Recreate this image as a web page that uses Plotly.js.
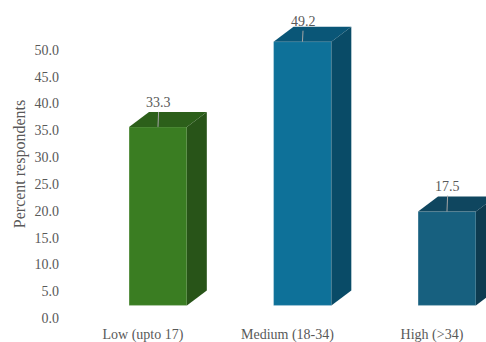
<!DOCTYPE html>
<html>
<head>
<meta charset="utf-8">
<script src="https://cdn.plot.ly/plotly-3.0.1.min.js"></script>
<style>
  html, body { margin: 0; padding: 0; background: #ffffff; }
  #chart { width: 486px; height: 342px; }
</style>
</head>
<body>
<div id="chart"></div>
<script>
// ---- data ----
const categories = ['Low (upto 17)', 'Medium (18-34)', 'High (>34)'];
const values = [33.3, 49.2, 17.5];
const valueLabels = ['33.3', '49.2', '17.5'];
const yTickVals = [0, 5, 10, 15, 20, 25, 30, 35, 40, 45, 50];
const yTickText = ['0.0', '5.0', '10.0', '15.0', '20.0', '25.0', '30.0', '35.0', '40.0', '45.0', '50.0'];

// ---- style ----
const frontColors = ['#3a7d22', '#0e7199', '#17607f'];
const topColors = ['#2c5f1a', '#0a5677', '#0f465f'];
const sideColors = ['#285418', '#094b67', '#0d3b50'];
const FONT = 'Liberation Serif, Times New Roman, serif';
const frontShift = 0.104;   // front face offset from category tick (category units)
const barWidth = 0.40;      // category units
const depthX = 0.138;       // 3D depth, category units
const depthY = 2.8;         // 3D depth, value units
const floorBase = 2.35;     // projected front-floor level
const labelLift = [-24, -20, -25]; // px from front top edge to label

const xIdx = categories.map((c, i) => i);
const xFront = xIdx.map(i => i + frontShift);

const traces = [];
traces.push({
  type: 'bar',
  x: xFront,
  y: values,
  base: values.map(() => floorBase),
  width: barWidth,
  marker: { color: frontColors, line: { color: 'rgba(255,255,255,0.25)', width: 0.8 } },
  hoverinfo: 'skip',
  showlegend: false
});

values.forEach((v, i) => {
  const xl = xFront[i] - barWidth / 2;
  const xr = xFront[i] + barWidth / 2;
  const yb = floorBase;
  const yt = floorBase + v;
  // top face
  traces.push({
    type: 'scatter', mode: 'lines', fill: 'toself',
    x: [xl, xr, xr + depthX, xl + depthX, xl],
    y: [yt, yt, yt + depthY, yt + depthY, yt],
    line: { width: 0 }, fillcolor: topColors[i],
    hoverinfo: 'skip', showlegend: false
  });
  // side face
  traces.push({
    type: 'scatter', mode: 'lines', fill: 'toself',
    x: [xr, xr + depthX, xr + depthX, xr, xr],
    y: [yb, yb + depthY, yt + depthY, yt, yb],
    line: { width: 0 }, fillcolor: sideColors[i],
    hoverinfo: 'skip', showlegend: false
  });
});

const annotations = values.map((v, i) => ({
  x: xFront[i], y: floorBase + v, xref: 'x', yref: 'y',
  text: valueLabels[i],
  showarrow: true, arrowhead: 0, arrowwidth: 1, arrowcolor: '#a6a6a6',
  ax: 1, ay: labelLift[i], standoff: 0,
  font: { family: FONT, size: 14, color: '#595959' }
}));

const layout = {
  width: 486, height: 342,
  margin: { l: 60, r: 0, t: 10, b: 24 },
  paper_bgcolor: '#ffffff', plot_bgcolor: '#ffffff',
  font: { family: FONT, size: 14, color: '#595959' },
  showlegend: false,
  bargap: 0,
  xaxis: {
    range: [-0.574, 2.374],
    tickvals: xIdx, ticktext: categories,
    showgrid: false, zeroline: false, showline: false, ticks: '',
    ticklabelstandoff: 6,
    tickfont: { family: FONT, size: 14, color: '#595959' },
    fixedrange: true
  },
  yaxis: {
    range: [0, 57.46],
    tickvals: yTickVals, ticktext: yTickText,
    showgrid: false, zeroline: false, showline: false, ticks: '',
    tickfont: { family: FONT, size: 14, color: '#595959' },
    title: { text: 'Percent respondents', font: { family: FONT, size: 16, color: '#595959' }, standoff: 4 },
    fixedrange: true
  },
  annotations: annotations
};

Plotly.newPlot('chart', traces, layout, { displayModeBar: false, staticPlot: true });
</script>
</body>
</html>
